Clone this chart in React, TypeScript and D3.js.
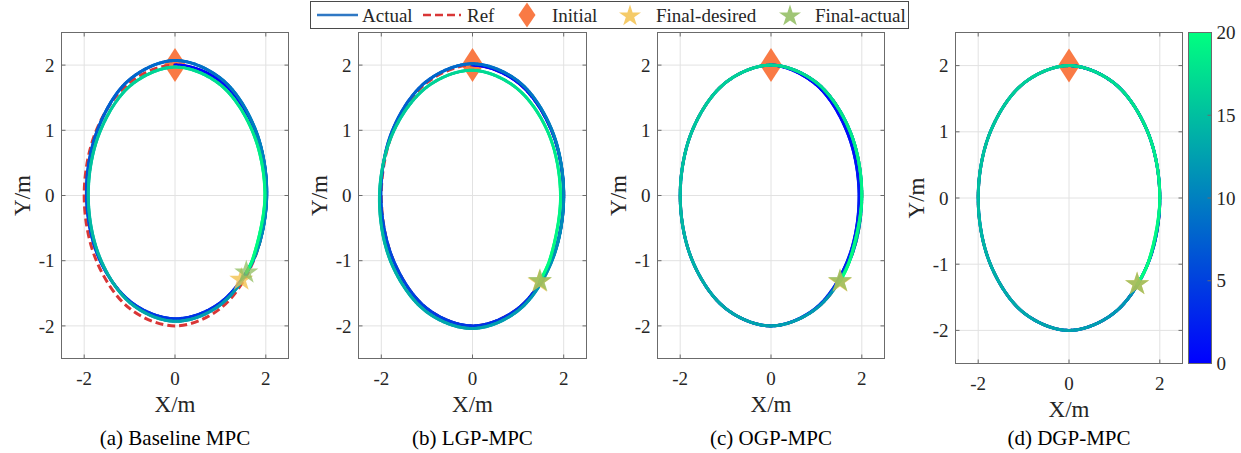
import React, { useRef, useEffect } from "react";
import * as d3 from "d3";

// time span of the runs (s), also used by the colorbar
const timeRange = [0, 20];
const xTicks = [-2, 0, 2];
const yTicks = [-2, -1, 0, 1, 2];
const cbTicks = [0, 5, 10, 15, 20];
const captions = ["(a) Baseline MPC", "(b) LGP-MPC", "(c) OGP-MPC", "(d) DGP-MPC"];
const legendLabels = ["Actual", "Ref", "Initial", "Final-desired", "Final-actual"];

// reference circle (r = 2), clockwise from the top
const refX = [0, 1, 1.732, 2, 1.732, 1, 0, -1, -1.732, -2, -1.732, -1];
const refY = [2, 1.732, 1, 0, -1, -1.732, -2, -1.732, -1, 0, 1, 1.732];

// actual paths, read every 30 deg along ~2.4 laps, last point = final position
const baseX = [0, 1.01, 1.758, 2.02, 1.715, 0.96, 0, -0.95, -1.671, -1.95, -1.715, -1.02, 0, 1.03, 1.767, 2.02, 1.723, 0.975, 0, -0.96, -1.654, -1.91, -1.663, -0.975, 0, 0.985, 1.706, 1.98, 1.706, 1.57];
const baseY = [2, 1.749, 1.015, 0, -0.99, -1.663, -1.89, -1.645, -0.965, 0, 0.99, 1.767, 2.07, 1.784, 1.02, 0, -0.995, -1.689, -1.93, -1.663, -0.955, 0, 0.96, 1.689, 1.97, 1.706, 0.985, 0, -0.985, -1.18];

const lgpX = [0, 1, 1.732, 2, 1.732, 1, 0, -1, -1.732, -2.01, -1.749, -1.01, 0, 1.01, 1.741, 2, 1.741, 1.015, 0, -1.025, -1.784, -2.04, -1.723, -0.97, 0, 0.955, 1.663, 1.93, 1.697, 1.47];
const lgpY = [2, 1.732, 1, 0, -1, -1.732, -2, -1.732, -1, 0, 1.01, 1.749, 2.02, 1.749, 1.005, 0, -1.005, -1.758, -2.04, -1.775, -1.03, 0, 0.995, 1.68, 1.92, 1.654, 0.96, 0, -0.98, -1.32];

const ogpX = [0, 0.985, 1.68, 1.94, 1.697, 0.995, 0, -1, -1.732, -2, -1.732, -1, 0, 1, 1.732, 2, 1.732, 1, 0, -1, -1.732, -2, -1.732, -1, 0, 1, 1.732, 2, 1.732, 1.52];
const ogpY = [2, 1.706, 0.97, 0, -0.98, -1.723, -2, -1.732, -1, 0, 1, 1.732, 2, 1.732, 1, 0, -1, -1.732, -2, -1.732, -1, 0, 1, 1.732, 2, 1.732, 1, 0, -1, -1.32];

const dgpX = [0, 1, 1.732, 2, 1.732, 1, 0, -1, -1.732, -2, -1.732, -1, 0, 1, 1.732, 2, 1.732, 1, 0, -1, -1.732, -2, -1.732, -1, 0, 1, 1.732, 2, 1.732, 1.5];
const dgpY = [2, 1.732, 1, 0, -1, -1.732, -2, -1.732, -1, 0, 1, 1.732, 2, 1.732, 1, 0, -1, -1.732, -2, -1.732, -1, 0, 1, 1.732, 2, 1.732, 1, 0, -1, -1.3];

const initialPt = [0, 2];
const desiredPts = [[1.46, -1.29], [1.47, -1.32], [1.52, -1.32], [1.5, -1.3]];
const finalPts = [[1.57, -1.18], [1.48, -1.31], [1.52, -1.31], [1.5, -1.3]];

const FONT = '"Liberation Serif", "Times New Roman", serif';
const TXT = "#262626";
const AXIS = "#6b6b6b";
const GRID = "#e2e2e2";

const timeColor = d3
  .scaleLinear<string>()
  .domain(timeRange)
  .range(["#0000ff", "#00ff80"]);

const layout = [
  { left: 61, top: 32, w: 227, h: 326 },
  { left: 358, top: 32, w: 228, h: 326 },
  { left: 657, top: 32, w: 227, h: 326 },
  { left: 955, top: 32, w: 227, h: 331 },
];

const runs = [
  [baseX, baseY],
  [lgpX, lgpY],
  [ogpX, ogpY],
  [dgpX, dgpY],
];

interface PanelProps {
  left: number;
  top: number;
  w: number;
  h: number;
  xs: number[];
  ys: number[];
  desired: number[];
  final: number[];
  caption: string;
}

const Panel: React.FC<PanelProps> = ({ left, top, w, h, xs, ys, desired, final, caption }) => {
  const trailRef = useRef<SVGGElement>(null);
  const x = d3.scaleLinear().domain([-2.5, 2.5]).range([0, w]);
  const y = d3.scaleLinear().domain([-2.5, 2.5]).range([h, 0]);

  const refPath = d3
    .line<number>()
    .x((d) => x(d))
    .y((_, i) => y(refY[i]))
    .curve(d3.curveCatmullRomClosed)(refX);

  useEffect(() => {
    if (!trailRef.current) return;
    const g = d3.select(trailRef.current);
    g.selectAll("*").remove();
    const pts = xs.map((v, i) => [x(v), y(ys[i])] as [number, number]);
    // lead-in point on the reference so the first piece bends like the rest
    const k = refX.length - 1;
    const pre: [number, number] = [x(refX[k]), y(refY[k])];
    const d = d3.line().curve(d3.curveCatmullRom)([pre, ...pts]) as string;
    const lead = g.append("path").attr("d", d.slice(0, d.indexOf("C", d.indexOf("C") + 1)));
    const skip = (lead.node() as SVGPathElement).getTotalLength();
    lead.remove();

    const guide = g.append("path").attr("d", d).attr("fill", "none");
    const node = guide.node() as SVGPathElement;
    const total = node.getTotalLength() - skip;
    const n = Math.ceil(total / 1.5);
    let p0 = node.getPointAtLength(skip);
    for (let i = 1; i <= n; i++) {
      const p1 = node.getPointAtLength(skip + (i / n) * total);
      g.append("line")
        .attr("x1", p0.x)
        .attr("y1", p0.y)
        .attr("x2", p1.x)
        .attr("y2", p1.y)
        .attr("stroke", timeColor((timeRange[1] * (i - 0.5)) / n))
        .attr("stroke-width", 3)
        .attr("stroke-linecap", "round");
      p0 = p1;
    }
    guide.remove();
  }, [xs, ys, w, h]);

  const star = d3.symbol(d3.symbolStar, 180)();
  const ix = x(initialPt[0]);
  const iy = y(initialPt[1]);
  const cx = w / 2;

  return (
    <g transform={`translate(${left + 0.5},${top + 0.5})`}>
      {/* grid */}
      {xTicks.map((t) => (
        <line key={"gx" + t} x1={x(t)} x2={x(t)} y1={0} y2={h} stroke={GRID} />
      ))}
      {yTicks.map((t) => (
        <line key={"gy" + t} x1={0} x2={w} y1={y(t)} y2={y(t)} stroke={GRID} />
      ))}
      {/* initial point */}
      <path d={`M${ix},${iy - 17}L${ix + 11},${iy}L${ix},${iy + 17}L${ix - 11},${iy}Z`} fill="#f97a45" />
      {/* reference */}
      <path d={refPath ?? ""} fill="none" stroke="#d93636" strokeWidth={3} strokeDasharray="8 4" />
      <g ref={trailRef} />
      {/* final points */}
      <path d={star ?? ""} transform={`translate(${x(desired[0])},${y(desired[1])})`} fill="#f3c24f" fillOpacity={0.8} />
      <path d={star ?? ""} transform={`translate(${x(final[0])},${y(final[1])})`} fill="#8fbc5e" fillOpacity={0.75} />
      {/* box and ticks */}
      <rect x={0} y={0} width={w} height={h} fill="none" stroke={AXIS} />
      {xTicks.map((t) => (
        <g key={"tx" + t}>
          <line x1={x(t)} x2={x(t)} y1={h} y2={h - 4} stroke={AXIS} />
          <line x1={x(t)} x2={x(t)} y1={0} y2={4} stroke={AXIS} />
          <text x={x(t)} y={h + 20} dy="0.35em" textAnchor="middle" fontSize={19} fill={TXT}>
            {t}
          </text>
        </g>
      ))}
      {yTicks.map((t) => (
        <g key={"ty" + t}>
          <line x1={0} x2={4} y1={y(t)} y2={y(t)} stroke={AXIS} />
          <line x1={w} x2={w - 4} y1={y(t)} y2={y(t)} stroke={AXIS} />
          <text x={-7} y={y(t)} dy="0.35em" textAnchor="end" fontSize={19} fill={TXT}>
            {t}
          </text>
        </g>
      ))}
      <text x={cx} y={h + 45} dy="0.35em" textAnchor="middle" fontSize={23} fill={TXT}>
        X/m
      </text>
      <text
        transform={`translate(-40,${h / 2}) rotate(-90)`}
        dy="0.35em"
        textAnchor="middle"
        fontSize={23}
        fill={TXT}
      >
        Y/m
      </text>
      <text x={cx} y={437 - top} dy="0.35em" textAnchor="middle" fontSize={21} fill="#000">
        {caption}
      </text>
    </g>
  );
};

const Legend: React.FC = () => {
  const star = d3.symbol(d3.symbolStar, 150)();
  const cy = 15;
  return (
    <g>
      <rect x={310.5} y={1.5} width={598} height={27} fill="#fff" stroke="#4a4a4a" />
      <line x1={317} x2={358} y1={cy} y2={cy} stroke="#2f78c4" strokeWidth={2.5} />
      <text x={362} y={cy} dy="0.35em" fontSize={19} fill={TXT}>{legendLabels[0]}</text>
      <line x1={423} x2={461} y1={cy} y2={cy} stroke="#d93636" strokeWidth={2.5} strokeDasharray="8 4" />
      <text x={467} y={cy} dy="0.35em" fontSize={19} fill={TXT}>{legendLabels[1]}</text>
      <path d={`M527,${cy - 12.5}L535.5,${cy}L527,${cy + 12.5}L518.5,${cy}Z`} fill="#f97a45" />
      <text x={552} y={cy} dy="0.35em" fontSize={19} fill={TXT}>{legendLabels[2]}</text>
      <path d={star ?? ""} transform={`translate(630,${cy + 1})`} fill="#f3c24f" fillOpacity={0.85} />
      <text x={656} y={cy} dy="0.35em" fontSize={19} fill={TXT}>{legendLabels[3]}</text>
      <path d={star ?? ""} transform={`translate(790,${cy + 1})`} fill="#8fbc5e" fillOpacity={0.85} />
      <text x={815} y={cy} dy="0.35em" fontSize={19} fill={TXT}>{legendLabels[4]}</text>
    </g>
  );
};

const Colorbar: React.FC = () => {
  const left = 1188;
  const top = 32;
  const w = 23;
  const h = 331;
  const c = d3.scaleLinear().domain(timeRange).range([h, 0]);
  return (
    <g transform={`translate(${left + 0.5},${top + 0.5})`}>
      <defs>
        <linearGradient id="winterGrad" x1="0" y1="1" x2="0" y2="0">
          {cbTicks.map((t) => (
            <stop key={t} offset={(t - timeRange[0]) / (timeRange[1] - timeRange[0])} stopColor={timeColor(t)} />
          ))}
        </linearGradient>
      </defs>
      <rect x={0} y={0} width={w} height={h} fill="url(#winterGrad)" stroke={AXIS} />
      {cbTicks.map((t) => (
        <g key={t}>
          <line x1={w - 4} x2={w} y1={c(t)} y2={c(t)} stroke={AXIS} />
          <text x={w + 5} y={c(t)} dy="0.35em" fontSize={19} fill={TXT}>
            {t}
          </text>
        </g>
      ))}
    </g>
  );
};

export default function App() {
  return (
    <div style={{ position: "absolute", left: 0, top: 0, background: "#fff" }}>
      <svg width={1241} height={453} style={{ display: "block", fontFamily: FONT }}>
        <rect width={1241} height={453} fill="#fff" />
        {layout.map((l, i) => (
          <Panel
            key={i}
            {...l}
            xs={runs[i][0]}
            ys={runs[i][1]}
            desired={desiredPts[i]}
            final={finalPts[i]}
            caption={captions[i]}
          />
        ))}
        <Colorbar />
        <Legend />
      </svg>
    </div>
  );
}
